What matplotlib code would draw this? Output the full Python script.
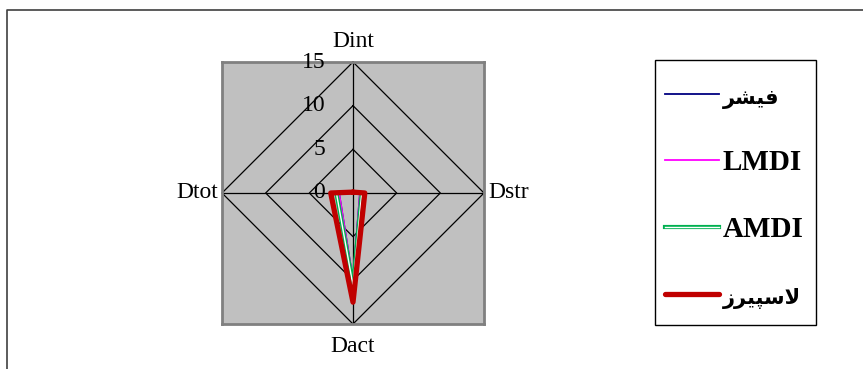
import numpy as np
import matplotlib
matplotlib.use('Agg')
import matplotlib.pyplot as plt
from matplotlib.lines import Line2D
from matplotlib.patches import Rectangle

# radar axes, clockwise from the top
categories = ['Dint', 'Dstr', 'Dact', 'Dtot']
angles_deg = [90, 0, -90, 180]
ring_values = [5, 10, 15]
tick_labels = ['0', '5', '10', '15']

# series values
fisher = [0.1, 0.8, 10.0, 1.6]
lmdi = [0.1, 0.8, 10.0, 1.6]
amdi = [0.1, 1.0, 10.6, 1.9]
laspeyres = [0.1, 1.35, 12.5, 2.55]

series_names = ['فیشر', 'LMDI', 'AMDI', 'لاسپیرز']

# simple arabic shaping, matplotlib does not join letters itself
FORMS = {
    'ف': ('\uFED1', '\uFED2', '\uFED3', '\uFED4'),
    'ی': ('\uFBFC', '\uFBFD', '\uFBFE', '\uFBFF'),
    'ش': ('\uFEB5', '\uFEB6', '\uFEB7', '\uFEB8'),
    'ر': ('\uFEAD', '\uFEAE', None, None),
    'ز': ('\uFEAF', '\uFEB0', None, None),
    'ا': ('\uFE8D', '\uFE8E', None, None),
    'س': ('\uFEB1', '\uFEB2', '\uFEB3', '\uFEB4'),
    'پ': ('\uFB56', '\uFB57', '\uFB58', '\uFB59'),
    'ل': ('\uFEDD', '\uFEDE', '\uFEDF', '\uFEE0'),
}
LAM_ALEF = ('\uFEFB', '\uFEFC')


def shape(word):
    if not any(ch in FORMS for ch in word):
        return word
    out = []
    i = 0
    prev_joins = False
    while i < len(word):
        ch = word[i]
        if ch == 'ل' and i + 1 < len(word) and word[i + 1] == 'ا':
            out.append(LAM_ALEF[1] if prev_joins else LAM_ALEF[0])
            prev_joins = False
            i += 2
            continue
        f = FORMS[ch]
        joins_next = f[2] is not None and i + 1 < len(word)
        if prev_joins and joins_next:
            g = f[3]
        elif prev_joins:
            g = f[1]
        elif joins_next:
            g = f[2]
        else:
            g = f[0]
        out.append(g)
        prev_joins = joins_next
        i += 1
    return ''.join(reversed(out))


def to_xy(values):
    a = np.radians(angles_deg)
    v = np.asarray(values, dtype=float)
    x = v * np.cos(a)
    y = v * np.sin(a)
    return np.append(x, x[0]), np.append(y, y[0])


plt.rcParams['font.family'] = ['Liberation Serif', 'DejaVu Sans']

fig = plt.figure(figsize=(8.63, 3.69), dpi=100)
W, H = 863, 369
ax = fig.add_axes([222 / W, 1 - 324 / H, 262 / W, 262 / H])
ax.set_facecolor('#C0C0C0')
for s in ax.spines.values():
    s.set_color('#808080')
    s.set_linewidth(2)
ax.set_xlim(-15, 15)
ax.set_ylim(-15, 15)
ax.set_xticks([])
ax.set_yticks([])

# diamond grid and spokes
for r in ring_values:
    gx, gy = to_xy([r] * len(categories))
    ax.plot(gx, gy, color='black', lw=0.9, clip_on=False)
for a in np.radians(angles_deg):
    ax.plot([0, 15 * np.cos(a)], [0, 15 * np.sin(a)], color='black', lw=0.9, clip_on=False)

# value labels on the top spoke
for i, lab in enumerate(tick_labels):
    ax.text(-3.2, i * 5, lab, ha='right', va='center', fontsize=17)

# category labels
label_pos = {'Dint': (0, 17.3, 'center', 'center'),
             'Dstr': (15.5, 0, 'left', 'center'),
             'Dact': (0, -17.6, 'center', 'center'),
             'Dtot': (-15.5, 0, 'right', 'center')}
for c in categories:
    x, y, ha, va = label_pos[c]
    ax.text(x, y, c, ha=ha, va=va, fontsize=17, clip_on=False)

# series
x, y = to_xy(fisher)
h_fisher, = ax.plot(x, y, color='#000080', lw=1.3)
x, y = to_xy(lmdi)
h_lmdi, = ax.plot(x, y, color='#FF00FF', lw=1.3)
x, y = to_xy(amdi)
h_amdi_a, = ax.plot(x, y, color='#00B050', lw=3.0)
h_amdi_b, = ax.plot(x, y, color='white', lw=1.0)
x, y = to_xy(laspeyres)
h_lasp, = ax.plot(x, y, color='#C00000', lw=3.8, solid_joinstyle='round',
                  solid_capstyle='round')

# chart area frame (top and left edges)
fig.add_artist(Line2D([7 / W, 7 / W, 1], [0, 1 - 10 / H, 1 - 10 / H],
                      color='#404040', lw=1.2))

# legend box
fig.add_artist(Rectangle((655 / W, 1 - 325 / H), 161 / W, 265 / H,
                         transform=fig.transFigure, facecolor='white',
                         edgecolor='black', lw=1))
leg = fig.legend([h_fisher, h_lmdi, (h_amdi_a, h_amdi_b), h_lasp],
                 [shape(n) for n in series_names],
                 loc='upper left', bbox_to_anchor=(665 / W, 1 - 84 / H),
                 frameon=False, borderpad=0, borderaxespad=0,
                 handlelength=1.85, handletextpad=0.12, labelspacing=1.37,
                 prop={'size': 21, 'weight': 'bold'})
leg.set_zorder(5)
for t, n in zip(leg.get_texts(), series_names):
    if n != shape(n):
        t.set_fontsize(15)

fig.savefig('out.png', dpi=100)
